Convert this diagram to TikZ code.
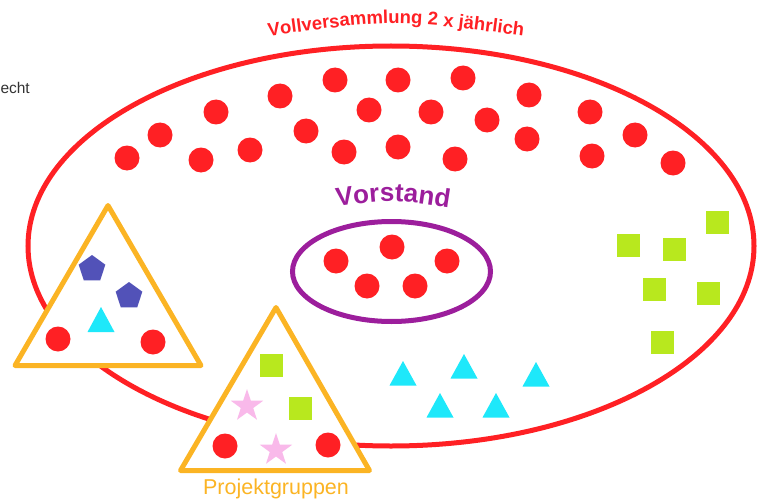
\documentclass[tikz,border=0pt]{standalone}
\usepackage{fontspec}
\setmainfont{Liberation Sans}
\usetikzlibrary{shapes.geometric,decorations.text}
\definecolor{vred}{RGB}{255,32,36}
\definecolor{vpurple}{RGB}{156,30,156}
\definecolor{vorange}{RGB}{251,180,36}
\definecolor{vblue}{RGB}{82,82,184}
\definecolor{vcyan}{RGB}{30,232,250}
\definecolor{vgreen}{RGB}{184,232,30}
\definecolor{vpink}{RGB}{249,185,234}
\definecolor{vgrey}{RGB}{51,51,51}
\newcommand{\vvfont}{\bfseries\fontsize{18.5}{18.5}\selectfont}
\newcommand{\vsfont}{\bfseries\fontsize{26}{26}\selectfont}
\begin{document}
\begin{tikzpicture}[x=1pt,y=-1pt,
  reddot/.style={circle,fill=vred,inner sep=0pt,minimum size=25pt},
  pent/.style={regular polygon,regular polygon sides=5,fill=vblue,inner sep=0pt,minimum size=28pt},
  pinkstar/.style={star,star points=5,star point ratio=2.6,fill=vpink,inner sep=0pt,minimum size=34pt},
  sq/.style={rectangle,fill=vgreen,inner sep=0pt,minimum size=23pt},
  group/.style={draw=vorange,fill=white,line width=5pt,line join=round},
  cyantri/.style={fill=vcyan}]
\useasboundingbox (0,0) rectangle (757,500);

\node[anchor=base east,text=vgrey,font=\fontsize{15.5}{15.5}\selectfont,inner sep=0pt] (echt) at (30,94) {echt};

% Vollversammlung
\draw[vred,line width=5pt] (391,246) ellipse [x radius=363pt, y radius=200pt];
\path[decorate,decoration={text along path,text={|\vvfont|Vollversammlung 2 x jährlich},text align=center,text color=vred}]
  (262,37) .. controls (395,19) .. (530,37);

\foreach \x/\y [count=\i] in {127/158,160/135,201/160,216/112,250/150,280/96,306/131,335/80,344/152,369/110,398/80,398/147,
  463/78,431/112,487/120,455/159,529/95,527/139,590/112,592/156,635/135,673/163}
  \node[reddot] (m\i) at (\x,\y) {};

% Vorstand
\draw[vpurple,line width=5pt] (391.5,271.5) ellipse [x radius=99pt, y radius=50pt];
\path[decorate,decoration={text along path,text={|\vsfont|Vorstand},text align=center,text color=vpurple}]
  (330,208) .. controls (392,199) .. (456,209);
\foreach \x/\y [count=\i] in {336/261,392/247,447/261,367/286,415/286}
  \node[reddot] (v\i) at (\x,\y) {};

% green squares
\foreach \x/\y [count=\i] in {628/245,674/249,717/222,654/289,708/293,662/342}
  \node[sq] (g\i) at (\x,\y) {};

% cyan triangles
\foreach \x/\y in {403/361,464/354,536/362,440/393,496/393}
  \fill[cyantri] (\x,\y) -- ++(-13.5,24.5) -- ++(27,0) -- cycle;

% left group
\draw[group] (108,205.5) -- (15,365.5) -- (201,365.5) -- cycle;
\node[pent] (p1) at (92,269) {};
\node[pent] (p2) at (129,296) {};
\fill[cyantri] (101,307) -- ++(-13.5,25) -- ++(27,0) -- cycle;
\node[reddot] (l1) at (58,339) {};
\node[reddot] (l2) at (153,342) {};

% Projektgruppen
\draw[group] (276,307.5) -- (180.5,470.5) -- (369.5,470.5) -- cycle;
\node[sq] (pg1) at (271,365) {};
\node[sq] (pg2) at (300,408) {};
\node[pinkstar] (s1) at (247,406) {};
\node[pinkstar] (s2) at (276,450) {};
\node[reddot] (pr1) at (225,446) {};
\node[reddot] (pr2) at (328,445) {};
\node[anchor=base,text=vorange,font=\fontsize{21.5}{21.5}\selectfont,inner sep=0pt] (pg) at (276,494) {Projektgruppen};
\end{tikzpicture}
\end{document}
